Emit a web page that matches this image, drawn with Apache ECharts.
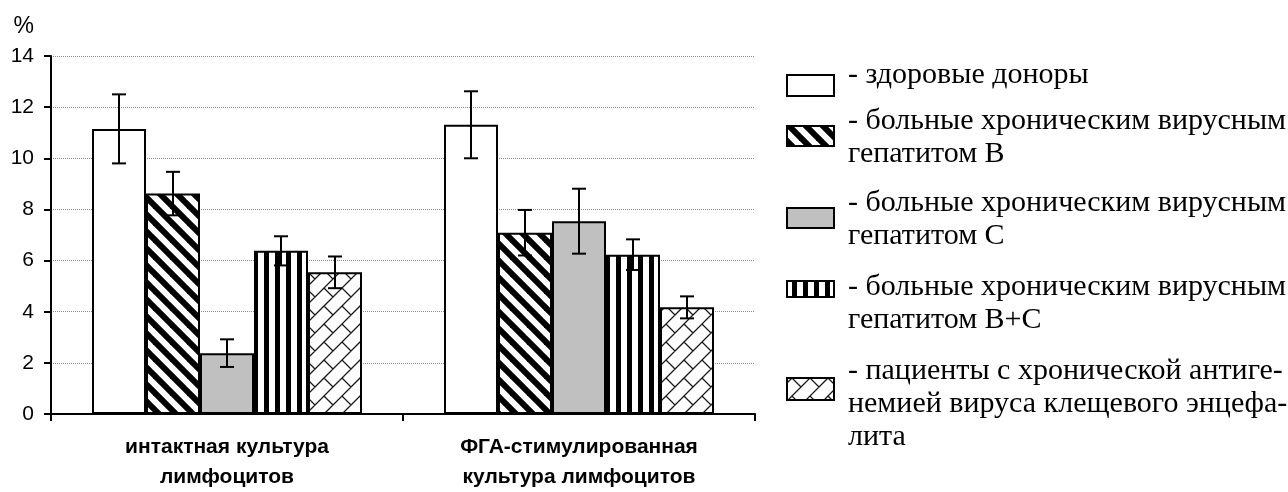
<!DOCTYPE html>
<html>
<head>
<meta charset="utf-8">
<script src="https://cdn.jsdelivr.net/npm/echarts@6/dist/echarts.min.js"></script>
<style>
  html, body { margin: 0; padding: 0; background: #fff; }
  #chart { width: 1288px; height: 492px; }
</style>
</head>
<body>
<div id="chart"></div>
<script>
// Lymphocyte cultures (x categories)
const categories = ['интактная культура\nлимфоцитов', 'ФГА-стимулированная\nкультура лимфоцитов'];

// Patient groups, in drawing order
const groupNames = [
  '- здоровые доноры',
  '- больные хроническим вирусным\nгепатитом В',
  '- больные хроническим вирусным\nгепатитом С',
  '- больные хроническим вирусным\nгепатитом В+С',
  '- пациенты с хронической антиге-\nнемией вируса клещевого энцефа-\nлита'
];

// Mean values, % (one value per culture)
const healthyDonors = [11.15, 11.31];
const hepatitisB    = [8.62, 7.09];
const hepatitisC    = [2.38, 7.54];
const hepatitisBC   = [6.38, 6.23];
const tbeAntigenemia = [5.54, 4.17];

// Error margins, %
const healthyDonorsErr  = [1.35, 1.31];
const hepatitisBErr     = [0.85, 0.89];
const hepatitisCErr     = [0.54, 1.27];
const hepatitisBCErr    = [0.57, 0.60];
const tbeAntigenemiaErr = [0.62, 0.43];

const yName = '%';
const yMin = 0, yMax = 14, yStep = 2;

const means = [healthyDonors, hepatitisB, hepatitisC, hepatitisBC, tbeAntigenemia];
const errors = [healthyDonorsErr, hepatitisBErr, hepatitisCErr, hepatitisBCErr, tbeAntigenemiaErr];

// ---- fill patterns ----
function makeTile(w, h, draw) {
  const c = document.createElement('canvas');
  c.width = w; c.height = h;
  const ctx = c.getContext('2d');
  ctx.fillStyle = '#fff';
  ctx.fillRect(0, 0, w, h);
  draw(ctx, w, h);
  return c;
}

// wide "\" stripes
const DIAG = 17;
const diagTile = makeTile(DIAG, DIAG, (ctx) => {
  ctx.strokeStyle = '#000';
  ctx.lineWidth = 6;
  for (let k = -2; k <= 2; k++) {
    ctx.beginPath();
    ctx.moveTo(k * DIAG - 6, -6);
    ctx.lineTo(k * DIAG + DIAG + 6, DIAG + 6);
    ctx.stroke();
  }
});

// vertical stripes
const vertTile = makeTile(11, 8, (ctx) => {
  ctx.fillStyle = '#000';
  ctx.fillRect(0, 0, 5, 8);
});

// diagonal brick: continuous "/" rows, alternating "\" joints
const BRICK = 18;
const brickTile = makeTile(2 * BRICK, 2 * BRICK, (ctx) => {
  const h = BRICK, T = 2 * BRICK;
  ctx.strokeStyle = '#1a1a1a';
  ctx.lineWidth = 1.3;
  ctx.beginPath();
  for (let u = -2 * T; u <= 4 * T; u += h) {
    ctx.moveTo(u + T, -T);
    ctx.lineTo(u - 2 * T, 2 * T);
  }
  for (let k = -6; k <= 10; k++) {
    const u0 = k * h, u1 = u0 + h;
    const off = (((k % 2) + 2) % 2) ? h : 0;
    for (let m = -4; m <= 4; m++) {
      const v = off + T * m;
      ctx.moveTo((u0 + v) / 2, (u0 - v) / 2);
      ctx.lineTo((u1 + v) / 2, (u1 - v) / 2);
    }
  }
  ctx.stroke();
});

const fills = [
  '#ffffff',
  { image: diagTile, repeat: 'repeat' },
  '#c0c0c0',
  { image: vertTile, repeat: 'repeat' },
  { image: brickTile, repeat: 'repeat' }
];

const BAR_W = 54;

const barSeries = means.map((vals, i) => ({
  name: groupNames[i],
  type: 'bar',
  data: vals,
  barWidth: BAR_W,
  barGap: '0%',
  itemStyle: { color: fills[i], borderColor: '#000', borderWidth: 2 },
  emphasis: { disabled: true },
  z: 2
}));

// whisker rows: [category, low, high, slot]
const whiskerData = [];
means.forEach((vals, i) => {
  vals.forEach((v, ci) => {
    whiskerData.push([ci, v - errors[i][ci], v + errors[i][ci], i]);
  });
});

const whiskerSeries = {
  type: 'custom',
  data: whiskerData,
  encode: { x: 0, y: [1, 2] },
  z: 5,
  silent: true,
  renderItem: (params, api) => {
    const ci = api.value(0);
    const lo = api.coord([ci, api.value(1)]);
    const hi = api.coord([ci, api.value(2)]);
    const x = lo[0] + (api.value(3) - 2) * BAR_W;
    const cap = 7;
    const st = { stroke: '#000', lineWidth: 2 };
    return {
      type: 'group',
      children: [
        { type: 'line', shape: { x1: x, y1: lo[1], x2: x, y2: hi[1] }, style: st },
        { type: 'line', shape: { x1: x - cap, y1: hi[1], x2: x + cap, y2: hi[1] }, style: st },
        { type: 'line', shape: { x1: x - cap, y1: lo[1], x2: x + cap, y2: lo[1] }, style: st }
      ]
    };
  }
};

// ---- legend panel ----
const legendBoxY = [75, 126, 208, 281, 378];
const legendBoxH = [21, 20, 20, 16, 22];
const legendTextY = [59, 105, 187, 271, 355];
const legendGraphics = [];
groupNames.forEach((name, i) => {
  legendGraphics.push({
    type: 'rect',
    shape: { x: 787, y: legendBoxY[i], width: 47, height: legendBoxH[i] },
    style: { fill: fills[i], stroke: '#000', lineWidth: 2 },
    silent: true
  });
  legendGraphics.push({
    type: 'text',
    x: 848, y: legendTextY[i],
    style: {
      text: name,
      font: '30px "Liberation Serif", "Times New Roman", serif',
      fill: '#000',
      lineHeight: 33,
      verticalAlign: 'top'
    },
    silent: true
  });
});

const chart = echarts.init(document.getElementById('chart'), null, { renderer: 'canvas' });
chart.setOption({
  animation: false,
  backgroundColor: '#fff',
  grid: { left: 51, right: 533, top: 56, bottom: 72, containLabel: false },
  xAxis: {
    type: 'category',
    data: categories,
    axisLine: { lineStyle: { color: '#000', width: 2 } },
    axisTick: { show: true, length: 7, lineStyle: { color: '#000', width: 2 } },
    axisLabel: {
      color: '#000',
      fontFamily: '"Liberation Sans", Arial, sans-serif',
      fontWeight: 'bold',
      fontSize: 21,
      lineHeight: 30,
      margin: 18
    },
    splitLine: { show: false }
  },
  yAxis: {
    type: 'value',
    min: yMin, max: yMax, interval: yStep,
    name: yName,
    nameLocation: 'end',
    nameGap: 29,
    nameTextStyle: {
      color: '#000',
      fontFamily: '"Liberation Sans", Arial, sans-serif',
      fontSize: 23,
      align: 'right',
      verticalAlign: 'middle',
      padding: [0, 17, 0, 0]
    },
    axisLine: { show: true, lineStyle: { color: '#000', width: 2 } },
    axisTick: { show: true, length: 7, lineStyle: { color: '#000', width: 2 } },
    axisLabel: {
      color: '#000',
      fontFamily: '"Liberation Sans", Arial, sans-serif',
      fontSize: 21,
      margin: 17
    },
    splitLine: { show: true, lineStyle: { color: '#8a8a8a', width: 1, type: 'dotted' } }
  },
  series: [...barSeries, whiskerSeries],
  graphic: legendGraphics
});
</script>
</body>
</html>
